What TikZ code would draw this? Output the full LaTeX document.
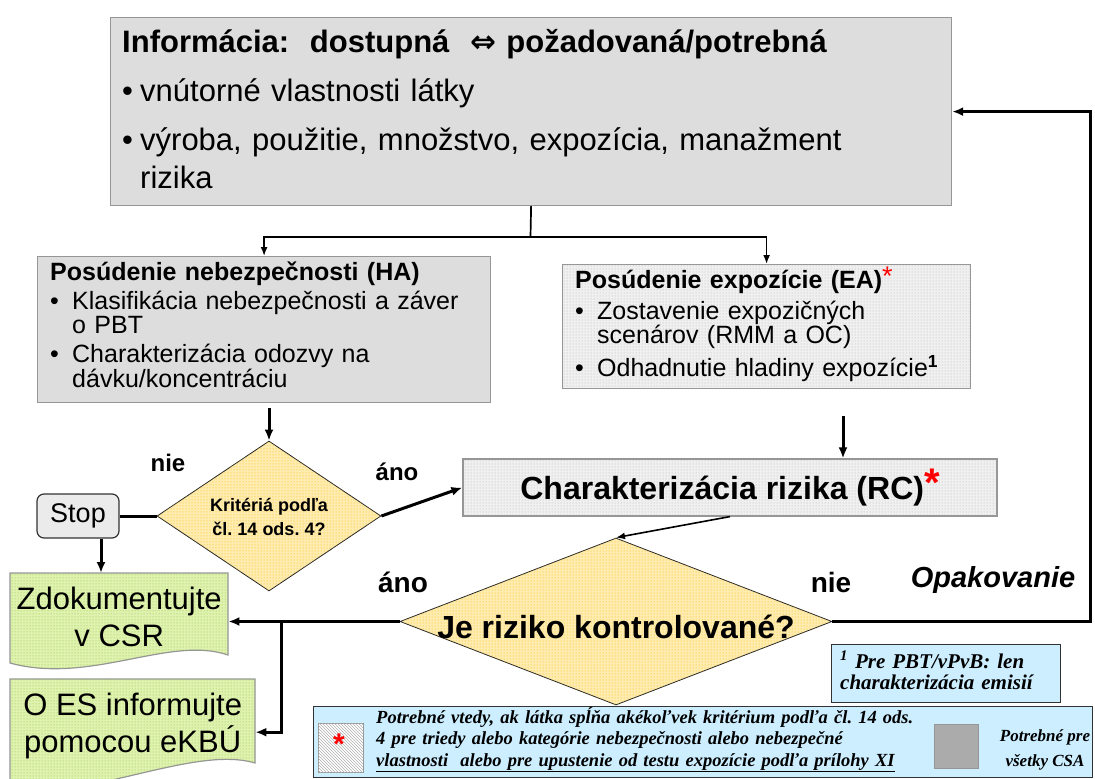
\documentclass[tikz,border=0pt]{standalone}
\usepackage{fontspec}
\setmainfont{Liberation Sans}
\newfontfamily\notefont{Liberation Serif}
\newfontfamily\arrowfont{DejaVu Sans}
\usetikzlibrary{arrows.meta,patterns,shapes.geometric}
\frenchspacing

\definecolor{boxgray}{HTML}{DDDDDD}
\definecolor{edgegray}{HTML}{969696}
\definecolor{dotgray}{HTML}{F0F0F0}
\definecolor{askfill}{HTML}{FFECB0}
\definecolor{askdot}{HTML}{F5B800}
\definecolor{docfill}{HTML}{E0F2B0}
\definecolor{docdot}{HTML}{86C236}
\definecolor{notefill}{HTML}{CCEEFF}
\definecolor{stopfill}{HTML}{EBEBEB}
\definecolor{keygray}{HTML}{ABABAB}

\newcommand{\px}[2]{\fontsize{#1}{#2}\selectfont}
\newcommand{\bitem}[2]{\par\hangindent=#1\hangafter=1\noindent\makebox[#1][l]{\textbullet}#2}
\newcommand{\redstar}[1]{\textcolor{red}{\raisebox{.1em}{\px{#1}{#1}*}}}

\tikzset{
  gbox/.style={draw=edgegray, line width=1.2pt, fill=boxgray, inner sep=0pt},
  dbox/.style={draw=edgegray, line width=1.2pt, fill=dotgray,
    postaction={pattern=dots, pattern color=black!30}, inner sep=0pt},
  ask/.style={diamond, draw=black!85, line width=0.8pt, fill=askfill,
    postaction={pattern=dots, pattern color=askdot}, inner sep=0pt},
  docbox/.style={draw=edgegray, line width=1.2pt, fill=docfill,
    postaction={pattern=dots, pattern color=docdot}},
  stopbox/.style={draw=black!80, line width=1.2pt, fill=stopfill, rounded corners=7pt,
    minimum width=82, minimum height=44, inner sep=0pt, font=\px{27}{30}},
  note/.style={draw=black!80, line width=1pt, fill=notefill, inner sep=0pt},
  txt/.style={inner sep=0pt, align=left},
  lbl/.style={inner sep=0pt, font=\bfseries\px{24}{28}},
  arr/.style={line width=3pt, -{Latex[length=11pt,width=9pt]}},
  thinarr/.style={line width=1.6pt, -{Latex[length=9pt,width=7pt]}},
}

\begin{document}
\begin{tikzpicture}[x=1pt, y=-1pt]
  \clip (0,0) rectangle (1095,779);
  % information
  \node[gbox, anchor=north west, minimum width=841, minimum height=188] (info) at (110,17) {};
  \node[txt, anchor=base west, text width=760, font=\px{31}{38}] (infotxt) at (122,52)
    {\noindent\textbf{Informácia:~~dostupná~~{\arrowfont ⇔}~požadovaná/potrebná}\par\vspace{12pt}%
     \bitem{18pt}{vnútorné vlastnosti látky}\par\vspace{10pt}%
     \bitem{18pt}{výroba, použitie, množstvo, expozícia, manažment rizika}\par};
  % hazard assessment
  \node[gbox, anchor=north west, minimum width=453, minimum height=146] (ha) at (37,256) {};
  \node[txt, anchor=base west, text width=425, font=\px{25}{24.5}] (hatxt) at (50,280)
    {\noindent\textbf{Posúdenie nebezpečnosti (HA)}\par\vspace{4.5pt}%
     \bitem{22pt}{Klasifikácia nebezpečnosti a záver o PBT}\par\vspace{4.5pt}%
     \bitem{22pt}{Charakterizácia odozvy na dávku/koncentráciu}\par};
  % exposure assessment
  \node[dbox, anchor=north west, minimum width=408, minimum height=124] (ea) at (562,264) {};
  \node[txt, anchor=base west, text width=372, font=\px{25}{24.5}] (eatxt) at (575,288)
    {\noindent\textbf{Posúdenie expozície (EA)}\redstar{27}\par\vspace{6.5pt}%
     \bitem{22pt}{Zostavenie expozičných scenárov (RMM a OC)}\par\vspace{5.5pt}%
     \bitem{22pt}{Odhadnutie hladiny expozície\textsuperscript{\textbf{1}}}\par};
  % risk characterisation
  \node[dbox, minimum width=534, minimum height=57, font=\bfseries\px{32}{38}] (rc) at (730,487.5)
    {Charakterizácia rizika (RC)\redstar{40}};
  % decisions
  \node[ask, minimum width=224, minimum height=150] (q1) at (269,516) {};
  \node[txt, align=center, font=\bfseries\px{18}{24}] (q1txt) at (269,517) {Kritériá podľa\\čl. 14 ods. 4?};
  \node[ask, minimum width=432, minimum height=167] (q2) at (616,621.5) {};
  \node[txt, font=\bfseries\px{32}{38}] (q2txt) at (616,627) {Je riziko kontrolované?};
  \node[stopbox] (stop) at (78,516) {Stop};
  % documentation
  \path[docbox] (10,573) -- (228,573) -- (228,655) .. controls (170,635) and (90,685) .. (10,663) -- cycle;
  \node[txt, align=center, anchor=north west, minimum width=218, minimum height=88, font=\px{31}{37}] (zdok)
    at (10,573) {Zdokumentujte\\v CSR};
  \path[docbox] (10,679) -- (255,679) -- (255,763) .. controls (195,745) and (90,800) .. (10,790) -- cycle;
  \node[txt, align=center, anchor=north west, minimum width=245, minimum height=94, font=\px{31}{37}] (oes)
    at (10,679) {O ES informujte\\pomocou eKBÚ};
  % labels
  \node[lbl] (nie1) at (168,463) {nie};
  \node[lbl] (ano1) at (397,472) {áno};
  \node[lbl, font=\bfseries\px{28}{30}] (ano2) at (403,582) {áno};
  \node[lbl, font=\bfseries\px{28}{30}] (nie2) at (831,582) {nie};
  \node[lbl, font=\bfseries\itshape\px{29}{30}] (opak) at (993,580) {Opakovanie};
  % connectors
  \coordinate (split) at (530.5,237);
  \draw[line width=1.7pt] (info.south) -- (split);
  \draw[thinarr] (split) -| (ha.north);
  \draw[thinarr] (split) -| (ea.north);
  \draw[arr] ([yshift=-5pt]ha.south -| q1.north) -- (q1.north);
  \draw[line width=3pt] (q1.west) -- (stop.east);
  \draw[arr] (stop.south -| 101,0) -- (zdok.north -| 101,0);
  \draw[arr] (q1.east) -- (rc.west);
  \draw[arr] ([yshift=-27pt]ea.south -| 843,0) -- (rc.north -| 843,0);
  \draw[thinarr] (rc.south) -- (q2.north);
  \draw[arr] (q2.west) -- (q2.west -| zdok.east);
  \coordinate (br) at (281,621.5);
  \draw[arr] (br) |- ([yshift=-6pt]oes.east);
  \coordinate (back) at (1090,621.5);
  \draw[arr] (q2.east) -- (back) |- (info.east);
  % legend
  \node[note, anchor=north west, minimum width=229, minimum height=58] (fnote) at (831,644) {};
  \node[txt, anchor=base west, text width=215, font=\notefont\bfseries\itshape\px{21}{21}] (fnotetxt) at (840,668)
    {\textsuperscript{1} Pre PBT/vPvB: len\\charakterizácia emisií};
  \node[note, anchor=north west, minimum width=779, minimum height=71] (legend) at (313,706) {};
  \node[anchor=north west, minimum width=45, minimum height=49, inner sep=0pt, draw=edgegray, fill=white,
    postaction={pattern=north west lines, pattern color=gray!60}] (hatchkey) at (318,723) {};
  \node[text=red, font=\bfseries\px{30}{30}, inner sep=0pt] (hatchstar) at (339,744) {*};
  \node[txt, anchor=base west, text width=560, font=\notefont\bfseries\itshape\px{18.5}{21.5}] (legtxt) at (376,723)
    {Potrebné vtedy, ak látka spĺňa akékoľvek kritérium podľa čl. 14 ods.\\
     4 pre triedy alebo kategórie nebezpečnosti alebo nebezpečné\\
     \underline{vlastnosti~ alebo pre upustenie od testu expozície podľa prílohy XI}};
  \node[anchor=north west, minimum width=44, minimum height=44, inner sep=0pt, draw=edgegray,
    fill=keygray] (graykey) at (934,724) {};
  \node[txt, align=center, font=\notefont\bfseries\itshape\px{17}{25}] (graytxt) at (1045,750)
    {Potrebné pre\\všetky CSA};
\end{tikzpicture}
\end{document}
